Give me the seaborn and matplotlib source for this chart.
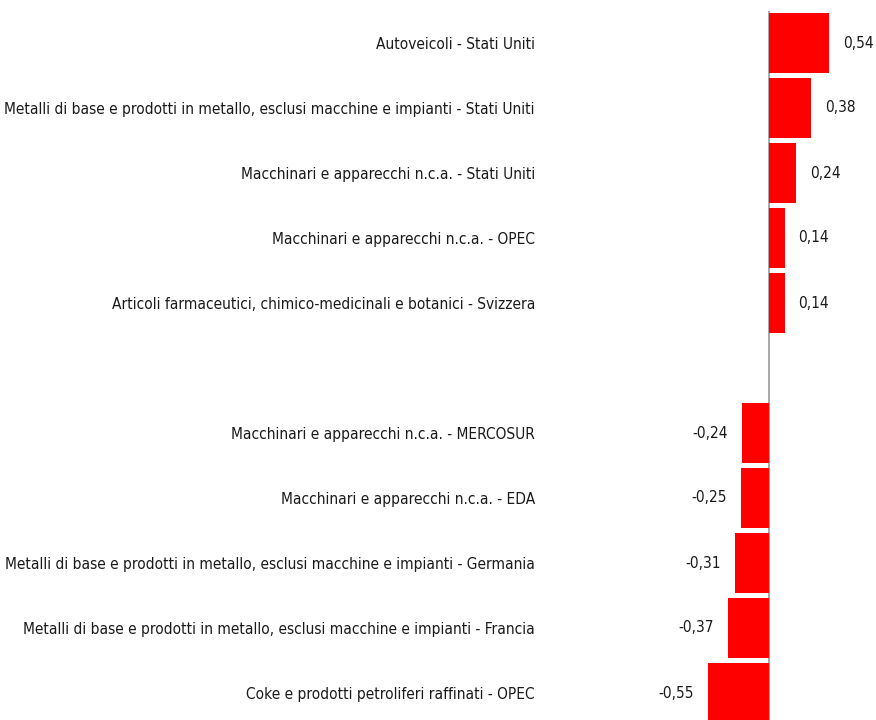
import matplotlib
matplotlib.use("Agg")
import matplotlib.pyplot as plt
from matplotlib import font_manager as fm
import seaborn as sns
import pandas as pd

categories = [
    "Autoveicoli - Stati Uniti",
    "Metalli di base e prodotti in metallo, esclusi macchine e impianti - Stati Uniti",
    "Macchinari e apparecchi n.c.a. - Stati Uniti",
    "Macchinari e apparecchi n.c.a. - OPEC",
    "Articoli farmaceutici, chimico-medicinali e botanici - Svizzera",
    "Macchinari e apparecchi n.c.a. - MERCOSUR",
    "Macchinari e apparecchi n.c.a. - EDA",
    "Metalli di base e prodotti in metallo, esclusi macchine e impianti - Germania",
    "Metalli di base e prodotti in metallo, esclusi macchine e impianti - Francia",
    "Coke e prodotti petroliferi raffinati - OPEC",
]
values = [0.54, 0.38, 0.24, 0.14, 0.14, -0.24, -0.25, -0.31, -0.37, -0.55]
order = categories[:5] + [" "] + categories[5:]

sns.set_style("white")
plt.rcParams['font.family'] = ['Liberation Sans', 'DejaVu Sans']

# pick a narrow/condensed font if one is installed
fontfile = None
for pref in ["Liberation Sans Narrow", "Arial Narrow", "DejaVu Sans Condensed", "Noto Sans Condensed"]:
    for f in fm.fontManager.ttflist:
        if f.name == pref and f.style == "normal" and f.weight in (400, "normal", "regular"):
            fontfile = f.fname
            break
    if fontfile:
        break
if fontfile is None:
    for f in fm.fontManager.ttflist:
        if ("condensed" in str(f.stretch) or "Condensed" in f.fname or "Narrow" in f.fname) \
                and f.style == "normal" and f.weight in (400, "normal", "regular") \
                and "Mono" not in f.name and "Serif" not in f.name:
            fontfile = f.fname
            break
if fontfile:
    fp = fm.FontProperties(fname=fontfile)
else:
    fp = fm.FontProperties(family=['Liberation Sans', 'DejaVu Sans'])

df = pd.DataFrame({"cat": categories, "val": values})

W, H = 876, 720
fig = plt.figure(figsize=(W / 100, H / 100), dpi=100)
ax_left, ax_right = 545, 876
zero_x = 769
scale = 111.0
top_px, bottom_px = 10.5, 725.5
ax = fig.add_axes([ax_left / W, (H - bottom_px) / H, (ax_right - ax_left) / W, (bottom_px - top_px) / H])

sns.barplot(data=df, x="val", y="cat", order=order, color="#ff0000",
            width=60 / 65, saturation=1, ax=ax, errorbar=None)
for p in ax.patches:
    p.set_edgecolor("none")

ax.set_xlim(-(zero_x - ax_left) / scale, (ax_right - zero_x) / scale)
ax.set_ylim(len(order) - 0.5, -0.5)
ax.axvline(0, color="#999999", lw=1.2, zorder=0)

for s in ax.spines.values():
    s.set_visible(False)
ax.set_xticks([])
ax.set_xlabel("")
ax.set_ylabel("")
ax.tick_params(axis="y", length=0, pad=10 * 72 / 100)

# fit label font size so the longest label spans ~527 px
renderer = fig.canvas.get_renderer()
longest = max(categories, key=len)
probe = fp.copy()
probe.set_size(13)
t = fig.text(0, 0, longest, fontproperties=probe)
wpx = t.get_window_extent(renderer).width
t.remove()
size = min(13.0, 13.0 * 527.0 / wpx)

lab_fp = fp.copy()
lab_fp.set_size(size)
for lbl in ax.get_yticklabels():
    lbl.set_fontproperties(lab_fp)
    lbl.set_color("#1a1a1a")

val_fp = fp.copy()
val_fp.set_size(min(13.0, size * 1.0) if fontfile else 12)
off = 14 / scale
for c, v in zip(categories, values):
    y = order.index(c)
    txt = f"{v:.2f}".replace(".", ",")
    if v >= 0:
        ax.text(v + off, y, txt, ha="left", va="center", fontproperties=val_fp, color="#1a1a1a")
    else:
        ax.text(v - off, y, txt, ha="right", va="center", fontproperties=val_fp, color="#1a1a1a")

fig.savefig("out.png", dpi=100)
